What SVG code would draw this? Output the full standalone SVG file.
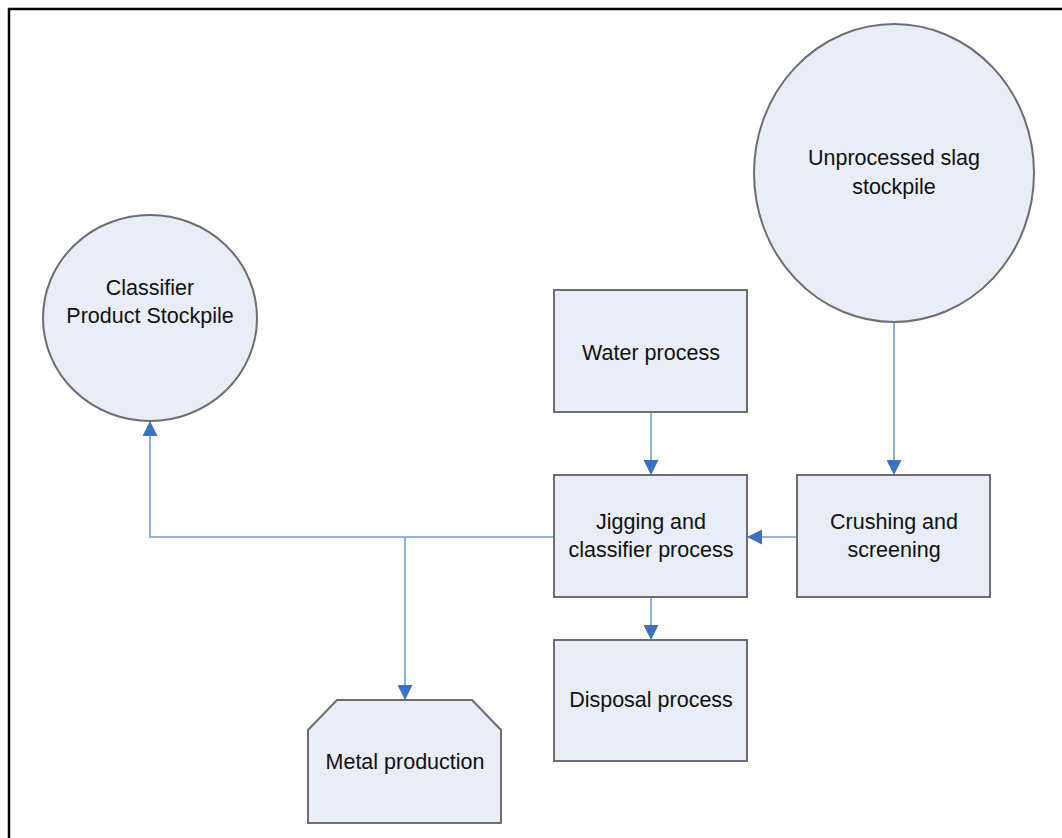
<svg xmlns="http://www.w3.org/2000/svg" width="1062" height="838" viewBox="0 0 1062 838">
<defs>
<style>
.n{fill:#e8edf7;stroke:#6e6e6e;stroke-width:2}
.t{font-family:"Liberation Sans",Arial,sans-serif;font-size:21.5px;fill:#111;text-anchor:middle}
.c{fill:none;stroke:#6f9be0;stroke-width:1.6}
</style>
<marker id="a" viewBox="0 0 10 10" refX="10" refY="5" markerWidth="15" markerHeight="15" markerUnits="userSpaceOnUse" orient="auto"><path d="M0,0L10,5L0,10z" fill="#3d6fc4"/></marker>
</defs>
<rect width="1062" height="838" fill="#fff"/>
<path d="M9,838V9H1062" fill="none" stroke="#000" stroke-width="2.5"/>
<g id="connectors">
<path class="c" d="M894,322V475" marker-end="url(#a)"/>
<path class="c" d="M651,412V475" marker-end="url(#a)"/>
<path class="c" d="M797,537H747" marker-end="url(#a)"/>
<path class="c" d="M651,597V640" marker-end="url(#a)"/>
<path class="c" d="M554,537H150V421" marker-end="url(#a)"/>
<path class="c" d="M405,537V700" marker-end="url(#a)"/>
</g>
<g id="slag"><ellipse class="n" cx="894" cy="173" rx="140" ry="149"/><text class="t" x="894" y="165">Unprocessed slag</text><text class="t" x="894" y="194">stockpile</text></g>
<g id="classifier"><ellipse class="n" cx="150" cy="318" rx="107" ry="103"/><text class="t" x="150" y="295">Classifier</text><text class="t" x="150" y="323">Product Stockpile</text></g>
<g id="water"><rect class="n" x="554" y="290" width="193" height="122"/><text class="t" x="651" y="360">Water process</text></g>
<g id="jigging"><rect class="n" x="554" y="475" width="193" height="122"/><text class="t" x="651" y="529">Jigging and</text><text class="t" x="651" y="557">classifier process</text></g>
<g id="crushing"><rect class="n" x="797" y="475" width="193" height="122"/><text class="t" x="894" y="529">Crushing and</text><text class="t" x="894" y="557">screening</text></g>
<g id="disposal"><rect class="n" x="554" y="640" width="193" height="121"/><text class="t" x="651" y="707">Disposal process</text></g>
<g id="metal"><path class="n" d="M337,700H472L501,730V823H308V730Z"/><text class="t" x="405" y="769">Metal production</text></g>
</svg>
